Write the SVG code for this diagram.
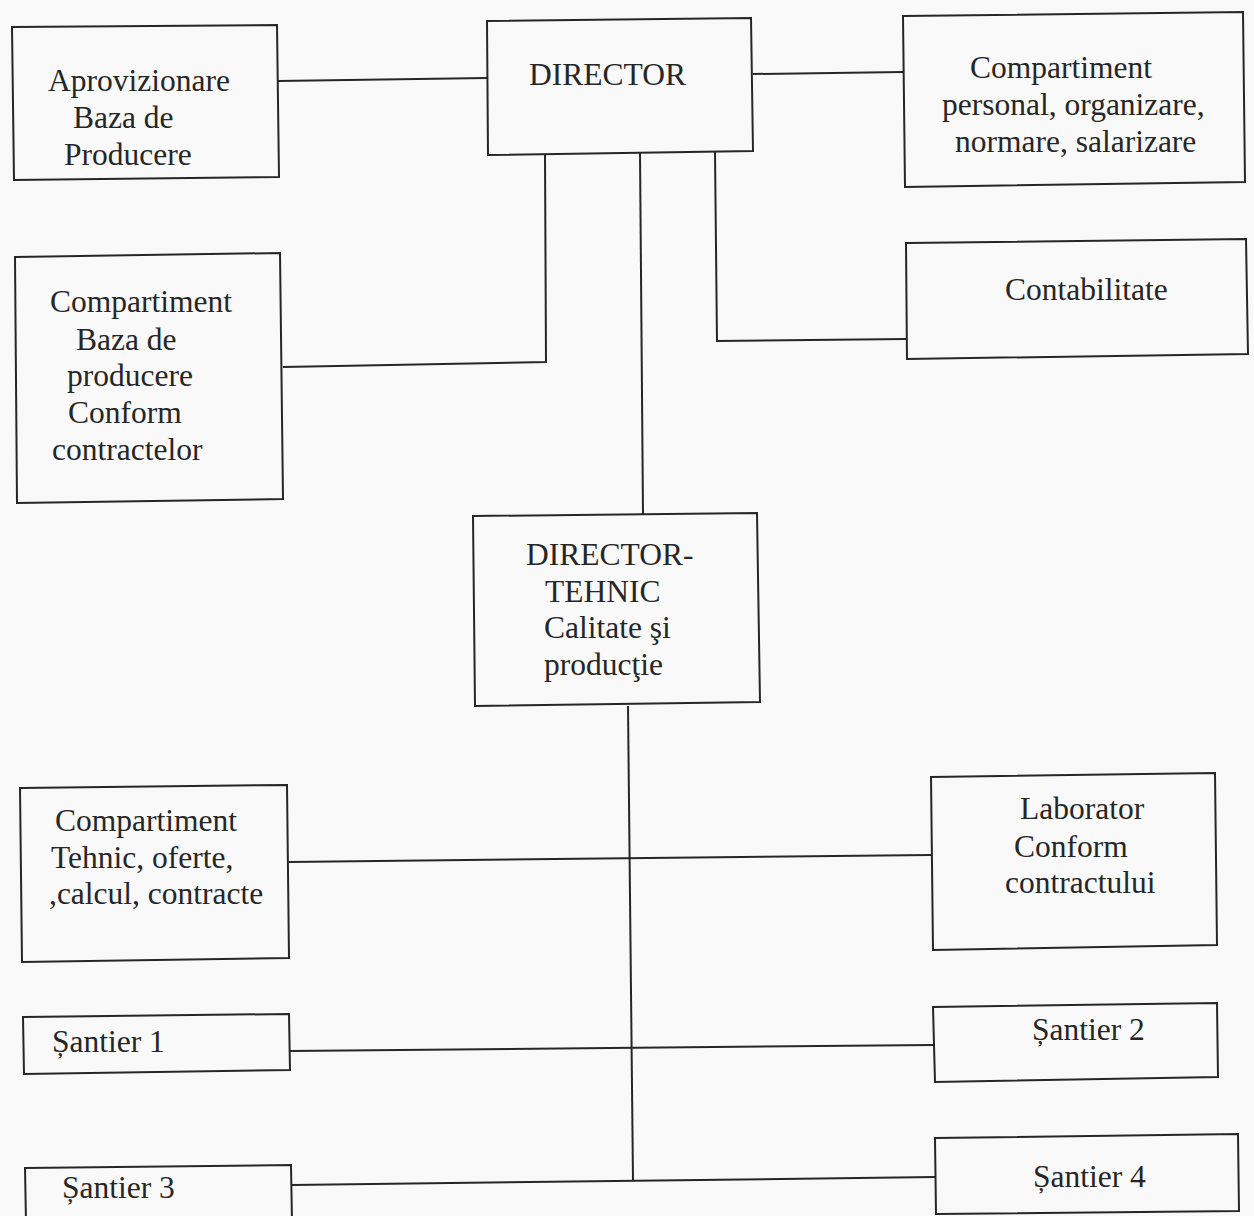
<svg xmlns="http://www.w3.org/2000/svg" width="1254" height="1216" viewBox="0 0 1254 1216">
<style>
.box{fill:none;stroke:#262626;stroke-width:2;stroke-linejoin:miter}
.con{fill:none;stroke:#262626;stroke-width:2}
.t{font-family:'Liberation Serif','DejaVu Serif',serif;font-size:31.5px;fill:#262626}
</style>
<rect width="1254" height="1216" fill="#f9f9f9"/>
<g id="connectors">
<line class="con" x1="278" y1="81" x2="487" y2="78"/>
<line class="con" x1="753" y1="74" x2="903" y2="72"/>
<polyline class="con" points="545,154 546,362 283,367"/>
<line class="con" x1="640" y1="153" x2="643" y2="514"/>
<polyline class="con" points="715,152 717,341 906,339"/>
<line class="con" x1="628" y1="706" x2="633" y2="1181"/>
<line class="con" x1="289" y1="862" x2="931" y2="855"/>
<line class="con" x1="290" y1="1051" x2="933" y2="1045"/>
<line class="con" x1="292" y1="1185" x2="935" y2="1177"/>
</g>
<g id="aprovizionare" class="t" font-family="Liberation Serif">
<polygon class="box" points="12,27 277,25 279,177 14,180"/>
<text x="48" y="91">Aprovizionare</text>
<text x="73" y="128">Baza de</text>
<text x="64" y="165">Producere</text>
</g>
<g id="director" class="t" font-family="Liberation Serif">
<polygon class="box" points="487,21 751,18 753,151 488,155"/>
<text x="529" y="85">DIRECTOR</text>
</g>
<g id="personal" class="t" font-family="Liberation Serif">
<polygon class="box" points="903,16 1243,12 1245,182 905,187"/>
<text x="970" y="78">Compartiment</text>
<text x="942" y="115">personal, organizare,</text>
<text x="955" y="152">normare, salarizare</text>
</g>
<g id="contabilitate" class="t" font-family="Liberation Serif">
<polygon class="box" points="906,243 1246,239 1248,354 907,359"/>
<text x="1005" y="300">Contabilitate</text>
</g>
<g id="baza-producere" class="t" font-family="Liberation Serif">
<polygon class="box" points="15,257 280,253 283,499 17,503"/>
<text x="50" y="312">Compartiment</text>
<text x="76" y="350">Baza de</text>
<text x="67" y="386">producere</text>
<text x="68" y="423">Conform</text>
<text x="52" y="460">contractelor</text>
</g>
<g id="director-tehnic" class="t" font-family="Liberation Serif">
<polygon class="box" points="473,516 757,513 760,702 475,706"/>
<text x="526" y="565">DIRECTOR-</text>
<text x="545" y="602">TEHNIC</text>
<text x="544" y="638">Calitate şi</text>
<text x="544" y="675">producţie</text>
</g>
<g id="tehnic-oferte" class="t" font-family="Liberation Serif">
<polygon class="box" points="20,788 287,785 289,958 22,962"/>
<text x="55" y="831">Compartiment</text>
<text x="51" y="868">Tehnic, oferte,</text>
<text x="49" y="904">,calcul, contracte</text>
</g>
<g id="laborator" class="t" font-family="Liberation Serif">
<polygon class="box" points="931,777 1215,773 1217,945 933,950"/>
<text x="1020" y="819">Laborator</text>
<text x="1014" y="857">Conform</text>
<text x="1005" y="893">contractului</text>
</g>
<g id="santier1" class="t" font-family="Liberation Serif">
<polygon class="box" points="23,1017 289,1014 290,1070 24,1074"/>
<text x="52" y="1052">Șantier 1</text>
</g>
<g id="santier2" class="t" font-family="Liberation Serif">
<polygon class="box" points="933,1007 1217,1003 1218,1077 935,1082"/>
<text x="1032" y="1040">Șantier 2</text>
</g>
<g id="santier3" class="t" font-family="Liberation Serif">
<polygon class="box" points="25,1168 291,1165 292,1222 26,1222"/>
<text x="62" y="1198">Șantier 3</text>
</g>
<g id="santier4" class="t" font-family="Liberation Serif">
<polygon class="box" points="935,1138 1238,1134 1239,1211 936,1214"/>
<text x="1033" y="1187">Șantier 4</text>
</g>
</svg>
